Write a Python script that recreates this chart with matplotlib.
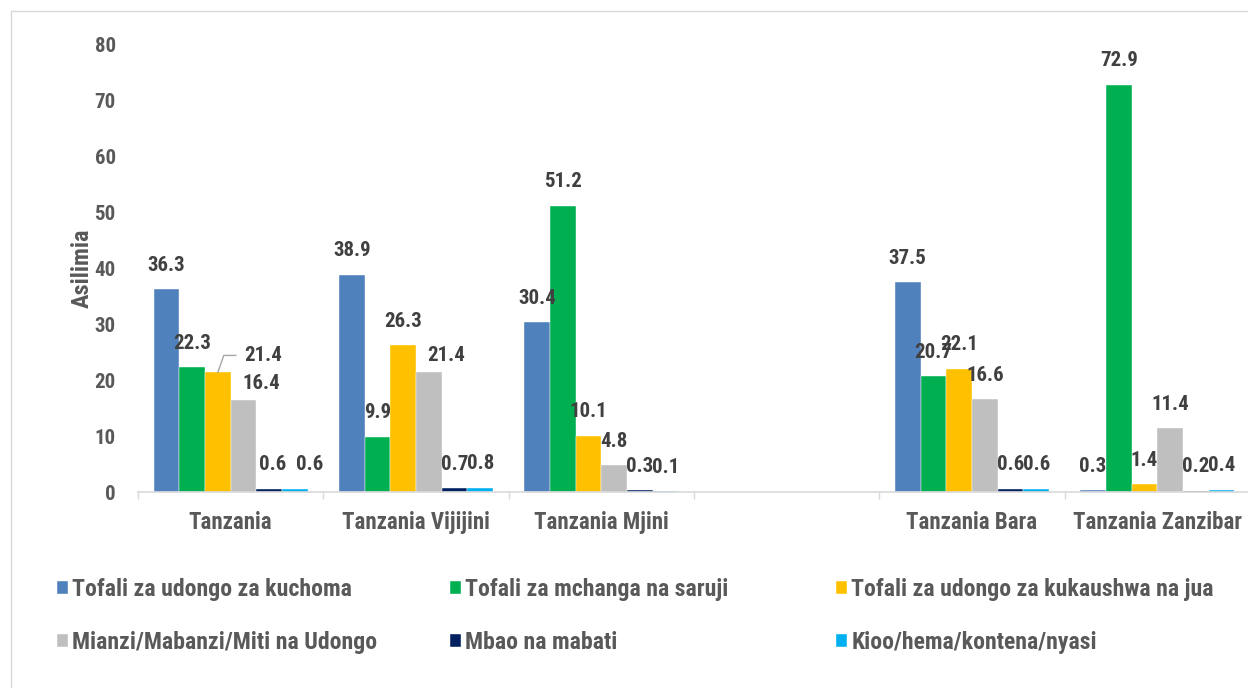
import numpy as np
import matplotlib.pyplot as plt
from matplotlib.patches import Rectangle

plt.rcParams['font.family'] = ['Liberation Sans Narrow', 'Roboto Condensed',
                               'Archivo Narrow', 'Liberation Sans', 'DejaVu Sans']
plt.rcParams['font.weight'] = 'bold'

# Data
categories = ["Tanzania", "Tanzania Vijijini", "Tanzania Mjini", "",
              "Tanzania Bara", "Tanzania Zanzibar"]
series_names = ["Tofali za udongo za kuchoma", "Tofali za mchanga na saruji",
                "Tofali za udongo za kukaushwa na jua",
                "Mianzi/Mabanzi/Miti na Udongo", "Mbao na mabati",
                "Kioo/hema/kontena/nyasi"]
kuchoma = [36.3, 38.9, 30.4, np.nan, 37.5, 0.3]
mchanga = [22.3, 9.9, 51.2, np.nan, 20.7, 72.9]
kukaushwa = [21.4, 26.3, 10.1, np.nan, 22.1, 1.4]
mianzi = [16.4, 21.4, 4.8, np.nan, 16.6, 11.4]
mbao = [0.6, 0.7, 0.3, np.nan, 0.6, 0.2]
kioo = [0.6, 0.8, 0.1, np.nan, 0.6, 0.4]
series = [kuchoma, mchanga, kukaushwa, mianzi, mbao, kioo]

colors = ["#4F81BD", "#00B050", "#FFC000", "#BFBFBF", "#002060", "#00B0F0"]
label_color = "#404040"
axis_text = "#595959"
grid_gray = "#D9D9D9"

# label offsets in pixels (dx, dy) where Excel labels were moved by hand
default_off = (0, 24)
moved = {(2, 0): (45, 17), (3, 0): (18, 17), (4, 0): (3, 24),
         (5, 0): (15, 24), (3, 1): (17, 17)}

fig = plt.figure(figsize=(12.48, 6.88), dpi=100)
ax = fig.add_axes([138 / 1248, 1 - 492 / 688, 1112 / 1248, 447 / 688])

# outer chart border
fig.patches.append(Rectangle((11 / 1248, -0.1), 1.2, 1 - 11 / 688 + 0.1,
                             transform=fig.transFigure, fill=False,
                             edgecolor=grid_gray, linewidth=1))

x = np.arange(len(categories))
w = 0.1387
bars = []
for i, vals in enumerate(series):
    b = ax.bar(x + (i - 2.5) * w, vals, w, color=colors[i],
               label=series_names[i], edgecolor='white', linewidth=0.3)
    bars.append(b)

ax.set_xlim(-0.5, 5.5)
ax.set_ylim(0, 80)

# data labels
for i, b in enumerate(bars):
    for j, rect in enumerate(b):
        v = series[i][j]
        if np.isnan(v):
            continue
        dx, dy = moved.get((i, j), default_off)
        ax.annotate(f"{v:.1f}", xy=(rect.get_x() + rect.get_width() / 2, v),
                    xytext=(dx, dy), textcoords='offset pixels',
                    ha='center', va='center', fontsize=15,
                    color=label_color, fontweight='bold')

# leader line for the moved 21.4 label
rect = bars[2][0]
p0 = ax.transData.transform((rect.get_x() + rect.get_width() / 2, kukaushwa[0]))
pts = np.array([p0, p0 + [6, 17], p0 + [18, 17]])
pts = ax.transData.inverted().transform(pts)
ax.plot(pts[:, 0], pts[:, 1], color="#A6A6A6", linewidth=1)

# axes styling
for s in ['left', 'top', 'right']:
    ax.spines[s].set_visible(False)
ax.spines['bottom'].set_color(grid_gray)
ax.spines['bottom'].set_linewidth(1.2)

ax.set_xticks(x)
ax.set_xticklabels(categories)
ax.set_xticks(np.arange(-0.5, 6, 1), minor=True)
ax.tick_params(axis='x', which='major', length=0, pad=14, labelsize=16.5,
               labelcolor=axis_text)
ax.tick_params(axis='x', which='minor', length=5, width=1, color=grid_gray)

ax.set_yticks(np.arange(0, 81, 10))
ax.tick_params(axis='y', length=0, pad=16, labelsize=15, labelcolor=axis_text)
ax.set_ylabel("Asilimia", fontsize=17.5, color=axis_text, fontweight='bold')
ax.yaxis.set_label_coords(-0.04, 0.5)

# legend: three columns placed like the original
col_x = [57, 450, 836]
for c in range(3):
    fig.legend([bars[c], bars[c + 3]], [series_names[c], series_names[c + 3]],
               loc='center left', bbox_to_anchor=(col_x[c] / 1248, 1 - 616 / 688),
               frameon=False, borderpad=0, borderaxespad=0,
               handlelength=0.45, handleheight=0.45, handletextpad=0.2,
               labelspacing=1.25, labelcolor=axis_text,
               prop=dict(size=17.1, weight='bold'))

fig.savefig("out.png", dpi=100)
